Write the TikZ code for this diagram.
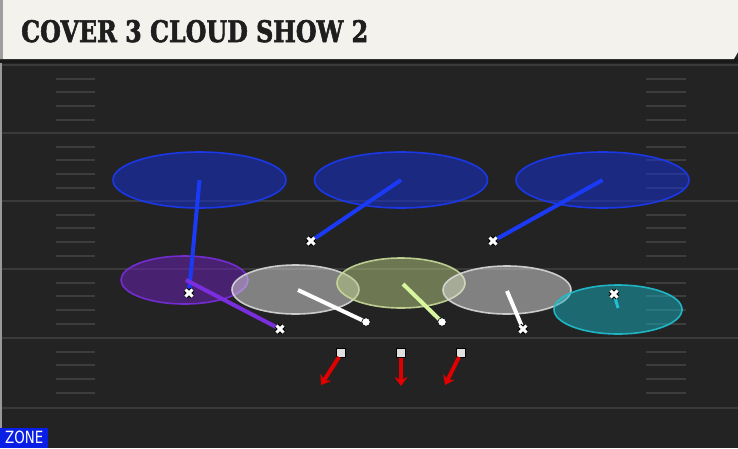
\documentclass[tikz,border=0pt]{standalone}
\usepackage{fontspec}
\setmainfont{DejaVu Serif}
\setsansfont{DejaVu Sans}
\newfontfamily\titlefont[FakeBold=2.2]{DejaVu Serif Bold}
\usetikzlibrary{shapes.geometric,arrows.meta}
\definecolor{fieldbg}{HTML}{232323}
\definecolor{yardline}{HTML}{3A3A3A}
\definecolor{hashc}{HTML}{3D3D3D}
\definecolor{headbg}{HTML}{F4F2ED}
\definecolor{titlec}{HTML}{1E1E1E}
\definecolor{zblue}{HTML}{1530E0}
\definecolor{zbluel}{HTML}{1A3AF5}
\definecolor{zpurp}{HTML}{7020C0}
\definecolor{zpurpl}{HTML}{7A2EDD}
\definecolor{zgray}{HTML}{E0E0E0}
\definecolor{zgrayl}{HTML}{D8D8D8}
\definecolor{zgreen}{HTML}{B8CC80}
\definecolor{zgreenl}{HTML}{C8DA9A}
\definecolor{zgreenr}{HTML}{D8F5A0}
\definecolor{zcyan}{HTML}{18B0C0}
\definecolor{zcyanl}{HTML}{20C0D0}
\definecolor{rred}{HTML}{E00000}
\definecolor{zonebg}{HTML}{0A1FE6}
\tikzset{
  zone/.style={ellipse, draw=#1l, line width=1.6pt, fill=#1, fill opacity=0.5, draw opacity=0.9, inner sep=0pt},
  route/.style={line width=4pt, draw=#1},
  xmark/.pic={
    \draw[black, line width=5pt] (-3.5,-3.5) -- (3.5,3.5) (-3.5,3.5) -- (3.5,-3.5);
    \draw[white, line width=3pt] (-3.5,-3.5) -- (3.5,3.5) (-3.5,3.5) -- (3.5,-3.5);
  },
  dotend/.style={circle, fill=white, draw=black, line width=0.6pt, minimum size=8.5pt, inner sep=0pt},
  sqnode/.style={rectangle, fill=white!88!black, draw=black, line width=0.6pt, minimum size=9pt, inner sep=0pt},
  rush/.style={line width=4pt, draw=rred, -{Stealth[length=9pt,width=13pt,inset=3pt]}},
  hash/.style={draw=hashc, line width=1.4pt},
}
\begin{document}
\begin{tikzpicture}[x=1pt,y=-1pt]
\useasboundingbox (0,0) rectangle (738,448);
% field
\fill[fieldbg] (0,0) rectangle (738,448);
\fill[white!60!black] (0,59) rectangle (2,448);
% yard lines
\foreach \yy in {65,133,201,269,338,408}
  \draw[yardline, line width=1.5pt] (2,\yy) -- (738,\yy);
% hash marks
\foreach \base in {65,133,201,269,338} {
  \foreach \off in {14,27,41,55} {
    \draw[hash] (56,\base+\off) -- (95,\base+\off);
    \draw[hash] (646,\base+\off) -- (686,\base+\off);
  }
}
% header
\fill[black!90] (0,58) rectangle (738,63);
\fill[headbg] (0,0) -- (738,0) -- (738,52) -- (734,59) -- (0,59) -- cycle;
\fill[white!62!black] (0,0) rectangle (3,59);
\node[anchor=base west, inner sep=0pt, text=titlec] (title) at (21,42)
  {\resizebox{347pt}{22pt}{\titlefont COVER 3 CLOUD SHOW 2}};
% zones
\node[zone=zblue, minimum width=173pt, minimum height=56pt] (deepL) at (199.5,180) {};
\node[zone=zblue, minimum width=173pt, minimum height=56pt] (deepM) at (401,180) {};
\node[zone=zblue, minimum width=173pt, minimum height=56pt] (deepR) at (602.5,180) {};
\node[zone=zpurp, minimum width=127pt, minimum height=48pt] (flatL) at (184.5,280) {};
\node[zone=zgray, minimum width=127pt, minimum height=49pt] (hookL) at (295.5,289.5) {};
\node[zone=zgreen, minimum width=128pt, minimum height=50pt] (mid) at (401,283) {};
\node[zone=zgray, minimum width=128pt, minimum height=48pt] (hookR) at (507,290) {};
\node[zone=zcyan, minimum width=128pt, minimum height=49pt] (flatR) at (618,309.5) {};
% player / route points
\coordinate (pCBL) at (189,293);
\coordinate (pS1) at (311,241);
\coordinate (pS2) at (493,241);
\coordinate (pNB) at (280,329);
\coordinate (pNBz) at (186,280);
\coordinate (pLB1z) at (298,290);
\coordinate (pLB2z) at (403,284);
\coordinate (pLB3z) at (507,291);
\coordinate (pLB3) at (523,329);
\coordinate (pCBR) at (614,294);
\coordinate (pCBRz) at (618,308);
% routes
\draw[route=zbluel] (pCBL) -- (deepL.center);
\draw[route=zbluel] (pS1) -- (deepM.center);
\draw[route=zbluel] (pS2) -- (deepR.center);
\draw[route=zpurpl] (pNB) -- (pNBz);
\draw[route=white] (pLB1z) -- (366,322) node[dotend] (d1) {};
\draw[route=zgreenr] (pLB2z) -- (442,322) node[dotend] (d2) {};
\draw[route=white] (pLB3) -- (pLB3z);
\draw[line width=3pt, draw=zcyanl] (pCBR) -- (pCBRz);
% x marks
\foreach \p in {pCBL,pS1,pS2,pNB,pLB3,pCBR}
  \pic at (\p) {xmark};
% rushers
\node[sqnode] (r1) at (341,353) {};
\node[sqnode] (r2) at (401,353) {};
\node[sqnode] (r3) at (461,353) {};
\coordinate (t1) at (321,385);
\coordinate (t2) at (401,386);
\coordinate (t3) at (445,385);
\draw[rush] (r1.center) ++(-2,4) -- (t1);
\draw[rush] (r2.south) -- (t2);
\draw[rush] (r3.center) ++(-2,4) -- (t3);
% zone label
\fill[zonebg] (0,428) rectangle (48,448);
\node[anchor=base west, inner sep=0pt, text=white] (zlabel) at (5,443.5)
  {\resizebox{38pt}{12.5pt}{\sffamily ZONE}};
\end{tikzpicture}
\end{document}
